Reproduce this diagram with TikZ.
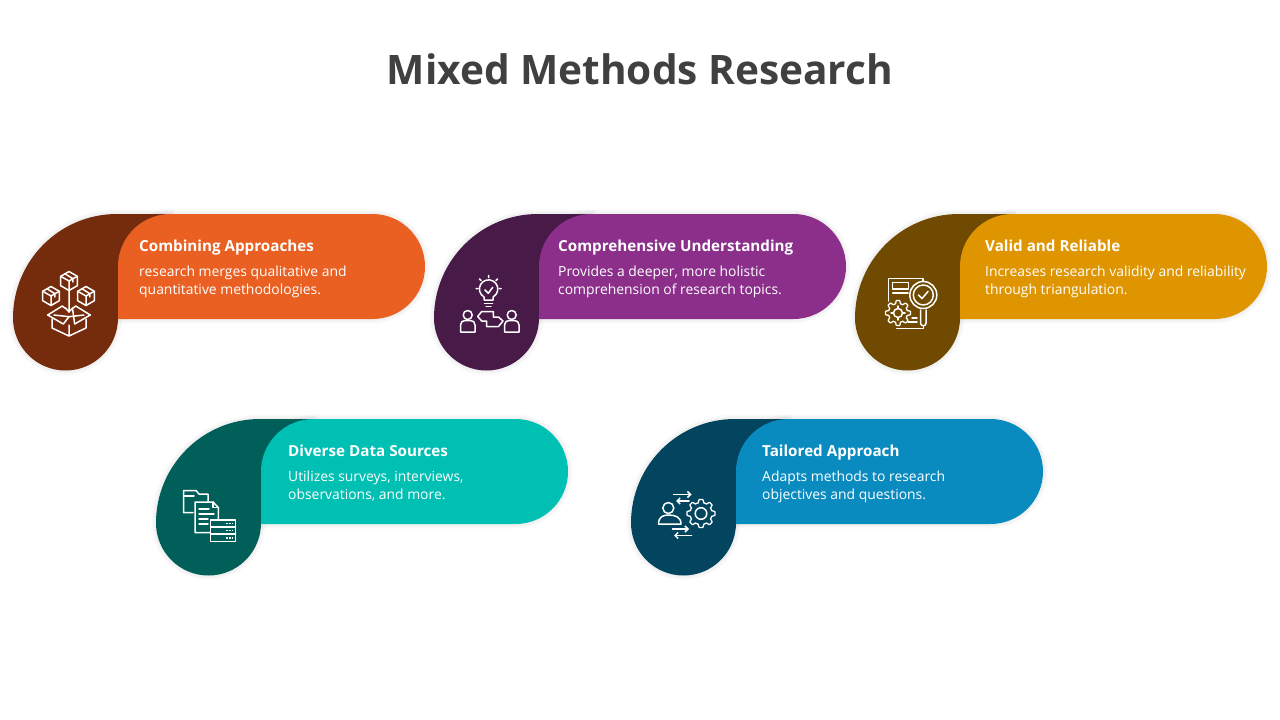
\documentclass[tikz,border=0pt]{standalone}
\usepackage{fontspec}
\setmainfont{Open Sans}
\usetikzlibrary{arrows.meta}
\definecolor{titlegray}{HTML}{404040}
\definecolor{orangeL}{HTML}{E96022}
\definecolor{orangeD}{HTML}{752C0D}
\definecolor{purpleL}{HTML}{8B2F8B}
\definecolor{purpleD}{HTML}{471A47}
\definecolor{goldL}{HTML}{DF9500}
\definecolor{goldD}{HTML}{6F4A00}
\definecolor{tealL}{HTML}{00BFB3}
\definecolor{tealD}{HTML}{005F59}
\definecolor{blueL}{HTML}{0A8BBF}
\definecolor{blueD}{HTML}{03455F}
\tikzset{
	headtext/.style = {anchor = base west, text = white, font = \fontsize{15.2}{18}\selectfont\bfseries, inner sep = 0},
	bodytext/.style = {anchor = base west, text = white, font = \fontsize{13.9}{17}\selectfont, inner sep = 0},
	iconline/.style = {draw = white, line width = 1.5pt, line join = round, line cap = round},
	softedge/.style = {draw = black, opacity = 0.018, fill = none}
}
\newcommand{\darkpath}{(0, 104) arc[start angle = 180, end angle = 90, radius = 104pt] -- (157, 0) -- (157, 52) -- (105, 104) arc[start angle = 0, end angle = -180, radius = 52.5pt] -- cycle}
\newcommand{\lightpath}{(105, 52.5) arc[start angle = 180, end angle = 90, radius = 52.5pt] -- (359.5, 0) arc[start angle = 90, end angle = -90, radius = 52.5pt] -- (105, 105) -- cycle}
% one isometric parcel
\newcommand{\parcelicon}[3]{
	\draw[iconline, shift = {(#1, #2)}] (0, -#3) -- (0.87*#3, -0.5*#3) -- (0.87*#3, 0.5*#3) -- (0, #3) -- (-0.87*#3, 0.5*#3) -- (-0.87*#3, -0.5*#3) -- cycle;
	\draw[iconline, shift = {(#1, #2)}] (-0.87*#3, -0.5*#3) -- (0, 0) -- (0.87*#3, -0.5*#3) (0, 0) -- (0, #3) (-0.4*#3, -0.75*#3) -- (0.4*#3, -0.25*#3) -- (0.4*#3, 0.1*#3);
}
% toothed wheel: x, y, radius
\newcommand{\toothwheel}[3]{
	\draw[iconline, line width = 1.3pt, domain = 0:360, samples = 145, variable = \t] plot({#1 + (#3 + 1.5 * max(min(2.2 * cos(8 * \t), 1), -1)) * cos(\t)}, {#2 + (#3 + 1.5 * max(min(2.2 * cos(8 * \t), 1), -1)) * sin(\t)}) -- cycle;
}
\begin{document}
\begin{tikzpicture}[x = 1pt, y = -1pt]
	\useasboundingbox (0, 0) rectangle (1280, 720);
	\fill[white] (0, 0) rectangle (1280, 720);
	\node[text = titlegray, anchor = base, inner sep = 0, font = \fontsize{40.6}{48}\selectfont\bfseries] (title) at (640, 84) {Mixed Methods Research};

	% the five cards
	\foreach \px/\py/\colD/\colL in {13/214/orangeD/orangeL, 434/214/purpleD/purpleL, 855/214/goldD/goldL, 156/419/tealD/tealL, 631/419/blueD/blueL} {
		\begin{scope}[shift = {(\px, \py)}]
			\foreach \w in {9, 6, 3} {
				\draw[softedge, line width = \w pt] \darkpath;
				\draw[softedge, line width = \w pt] \lightpath;
			}
			\fill[\colD] \darkpath;
			\fill[\colL] \lightpath;
		\end{scope}
	}

	\node[headtext] (headA) at (139, 251) {Combining Approaches};
	\node[bodytext] (bodyA1) at (139, 276) {research merges qualitative and};
	\node[bodytext] (bodyA2) at (139, 294) {quantitative methodologies.};
	\node[headtext] (headB) at (558, 251) {Comprehensive Understanding};
	\node[bodytext] (bodyB1) at (558, 276) {Provides a deeper, more holistic};
	\node[bodytext] (bodyB2) at (558, 294) {comprehension of research topics.};
	\node[headtext] (headC) at (985, 251) {Valid and Reliable};
	\node[bodytext] (bodyC1) at (985, 276) {Increases research validity and reliability};
	\node[bodytext] (bodyC2) at (985, 294) {through triangulation.};
	\node[headtext] (headD) at (288, 456) {Diverse Data Sources};
	\node[bodytext] (bodyD1) at (288, 481) {Utilizes surveys, interviews,};
	\node[bodytext] (bodyD2) at (288, 499) {observations, and more.};
	\node[headtext] (headE) at (762, 456) {Tailored Approach};
	\node[bodytext] (bodyE1) at (762, 481) {Adapts methods to research};
	\node[bodytext] (bodyE2) at (762, 499) {objectives and questions.};

	% parcels icon
	\parcelicon{69}{281}{9.5}
	\parcelicon{51}{296}{9.5}
	\parcelicon{86}{296}{9.5}
	\draw[iconline] (69, 291) -- (69, 312) (65.5, 308) -- (69, 312) -- (72.5, 308);
	\draw[iconline] (52, 319) -- (52, 328) -- (69, 336) -- (86, 328) -- (86, 319) (69, 325) -- (69, 336);
	\draw[iconline] (69, 316.7) -- (63.3, 324) -- (47.7, 315) -- (62.3, 306) -- (65.5, 308.5) (72.5, 308.5) -- (75.7, 306) -- (90.3, 315) -- (74.7, 324) -- cycle;
	\draw[iconline] (54, 315) -- (69, 316.7) -- (84, 315);

	% bulb and people icon
	\draw[iconline] (484, 300) -- (484, 297) arc[start angle = 240, end angle = -60, radius = 9.2pt] -- (493, 300) -- cycle;
	\draw[iconline] (484.5, 303.5) -- (492.5, 303.5) (486, 306.5) -- (491, 306.5);
	\draw[iconline] (485, 290) -- (488.3, 293.3) -- (492.7, 287.3);
	\draw[iconline] (488.5, 275.5) -- (488.5, 277.5) (476, 288.5) -- (478, 288.5) (499, 288.5) -- (501, 288.5) (479.5, 279) -- (481, 280.5) (497.5, 279) -- (496, 280.5);
	\draw[iconline] (467.7, 315) circle[radius = 4.5pt] (511.7, 315) circle[radius = 4.5pt];
	\draw[iconline] (460.5, 332) -- (460.5, 325) .. controls (460.5, 322) and (463, 320.5) .. (465, 320.5) -- (470.5, 320.5) .. controls (473, 320.5) and (475, 322) .. (475, 325) -- (475, 332) -- cycle;
	\draw[iconline] (504.5, 332) -- (504.5, 325) .. controls (504.5, 322) and (507, 320.5) .. (509, 320.5) -- (514.5, 320.5) .. controls (517, 320.5) and (519, 322) .. (519, 325) -- (519, 332) -- cycle;
	\draw[iconline] (481.7, 311.5) -- (493.3, 311.5) -- (493.3, 317) -- (498.5, 317) -- (503, 321) -- (498.5, 326.5) -- (486.7, 326.5) -- (486.7, 321) -- (481.7, 321) -- (477.7, 316.5) -- cycle;

	% report, wheel and lens icon
	\draw[iconline] (888.5, 301) -- (888.5, 278.5) -- (923, 278.5) -- (923, 281);
	\draw[iconline] (896.7, 328.5) -- (923.3, 328.5) -- (923.3, 326);
	\draw[iconline] (892.7, 282.5) rectangle (908.3, 289);
	\draw[iconline] (892.7, 293) -- (908, 293) (908, 322) -- (917, 322) (912, 318) -- (917, 318);
	\fill[goldD] (898, 313) circle[radius = 13pt];
	\toothwheel{898}{313}{11}
	\draw[iconline] (898, 313) circle[radius = 4.5pt];
	\draw[iconline] (898, 306) -- (898, 308.5) (898, 317.5) -- (898, 320) (891, 313) -- (893.5, 313) (902.5, 313) -- (905, 313);
	\fill[goldD] (923.3, 295) circle[radius = 13.5pt];
	\draw[iconline] (923.3, 295) circle[radius = 13.5pt] (923.3, 295) circle[radius = 10pt];
	\draw[iconline] (920.5, 310) -- (920.5, 323) arc[start angle = 180, end angle = 360, radius = 2.8pt] -- (926, 310);
	\draw[iconline] (918.5, 295) -- (922, 298.5) -- (928, 291.5);

	% folder, file and server icon
	\draw[iconline] (193, 512.5) -- (183.5, 512.5) -- (183.5, 490.5) -- (196, 490.5) -- (199, 494) -- (208, 494) -- (208, 501);
	\draw[iconline] (183.5, 496) -- (194, 496);
	\draw[iconline] (210, 532.5) -- (195, 532.5) -- (195, 502) -- (213, 502) -- (218.3, 507.5) -- (218.3, 519);
	\draw[iconline] (213, 502) -- (213, 507.5) -- (218.3, 507.5);
	\draw[iconline] (199, 509) -- (209, 509) (199, 514) -- (214, 514) (199, 519) -- (208, 519) (199, 524) -- (208, 524);
	\draw[iconline] (210.5, 520) rectangle (235.5, 541.5);
	\draw[iconline] (210.5, 527) -- (235.5, 527) (210.5, 534) -- (235.5, 534);
	\draw[white, line width = 1.4pt, dash pattern = on 1.5pt off 1.5pt] (226, 523.5) -- (233, 523.5) (226, 530.5) -- (233, 530.5) (226, 538) -- (233, 538);

	% person, wheel and arrows icon
	\draw[iconline] (668.3, 508) circle[radius = 5.5pt];
	\draw[iconline] (658.5, 524) .. controls (658.5, 517) and (663, 515) .. (668.5, 515) .. controls (675, 515) and (681, 517) .. (681, 524) -- cycle;
	\toothwheel{701}{513.5}{12.5}
	\draw[iconline] (701, 513.5) circle[radius = 5.8pt];
	\draw[iconline, -{Straight Barb[length = 3pt, width = 6pt]}] (673.5, 494.5) -- (691.5, 494.5);
	\draw[iconline, -{Straight Barb[length = 3pt, width = 6pt]}] (689, 501) -- (676, 501);
	\draw[iconline, -{Straight Barb[length = 3pt, width = 6pt]}] (672.5, 529) -- (689, 529);
	\draw[iconline, -{Straight Barb[length = 3pt, width = 6pt]}] (691.5, 535.5) -- (674, 535.5);
\end{tikzpicture}
\end{document}
